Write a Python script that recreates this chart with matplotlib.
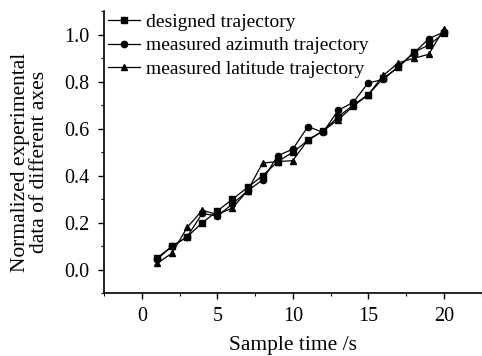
import matplotlib
matplotlib.use("Agg")
import matplotlib.pyplot as plt
from matplotlib.ticker import MultipleLocator

plt.rcParams['font.family'] = ['Liberation Serif', 'DejaVu Serif']

# sample time (s)
t = list(range(1, 21))

designed = [0.05, 0.10, 0.14, 0.20, 0.25, 0.30, 0.35, 0.40, 0.46, 0.50,
            0.55, 0.59, 0.65, 0.70, 0.745, 0.815, 0.86, 0.925, 0.955, 1.005]
azimuth = [0.045, 0.10, 0.14, 0.24, 0.228, 0.28, 0.336, 0.382, 0.485, 0.513,
           0.609, 0.584, 0.678, 0.712, 0.795, 0.809, 0.866, 0.919, 0.983, 1.01]
latitude = [0.027, 0.071, 0.18, 0.253, 0.235, 0.263, 0.336, 0.454, 0.46, 0.464,
            0.553, 0.59, 0.638, 0.695, 0.745, 0.827, 0.88, 0.899, 0.916, 1.023]

fig = plt.figure(figsize=(4.82, 3.56), dpi=100)
ax = fig.add_axes([0.216, 0.176, 0.783, 0.793])

ax.plot(t, designed, color='black', lw=0.9, marker='s', ms=4.5, label='designed trajectory')
ax.plot(t, azimuth, color='black', lw=0.9, marker='o', ms=4.5, label='measured azimuth trajectory')
ax.plot(t, latitude, color='black', lw=0.9, marker='^', ms=5, label='measured latitude trajectory')

ax.set_xlim(-2.5, 22.5)
ax.set_ylim(-0.1, 1.1)
ax.xaxis.set_major_locator(MultipleLocator(5))
ax.xaxis.set_minor_locator(MultipleLocator(2.5))
ax.yaxis.set_minor_locator(MultipleLocator(0.1))
ax.set_yticks([0.0, 0.2, 0.4, 0.6, 0.8, 1.0])
ax.set_yticklabels(['0.0', '0.2', '0.4', '0.6', '0.8', '1.0'])

for s in ['top', 'right']:
    ax.spines[s].set_visible(False)
for s in ['left', 'bottom']:
    ax.spines[s].set_linewidth(1.2)

ax.tick_params(which='major', direction='out', length=4, width=1, labelsize=14.5)
ax.tick_params(axis='x', which='major', pad=5.5)
ax.tick_params(axis='y', which='major', pad=6.5)
ax.tick_params(which='minor', direction='out', length=2.5, width=0.8)

ax.set_xlabel('Sample time /s', fontsize=15.5, va='baseline')
ax.xaxis.set_label_coords(0.5, -0.202)
ax.set_ylabel('Normalized experimental\ndata of different axes', fontsize=15.5,
              linespacing=1.0, va='center')
ax.yaxis.set_label_coords(-0.196, 0.465)

ax.legend(loc='upper left', bbox_to_anchor=(0.005, 1.0), frameon=False, fontsize=14,
          handlelength=1.65, handletextpad=0.27, labelspacing=0.3, borderpad=0.12,
          borderaxespad=0.0)

fig.savefig('out.png', dpi=100)
